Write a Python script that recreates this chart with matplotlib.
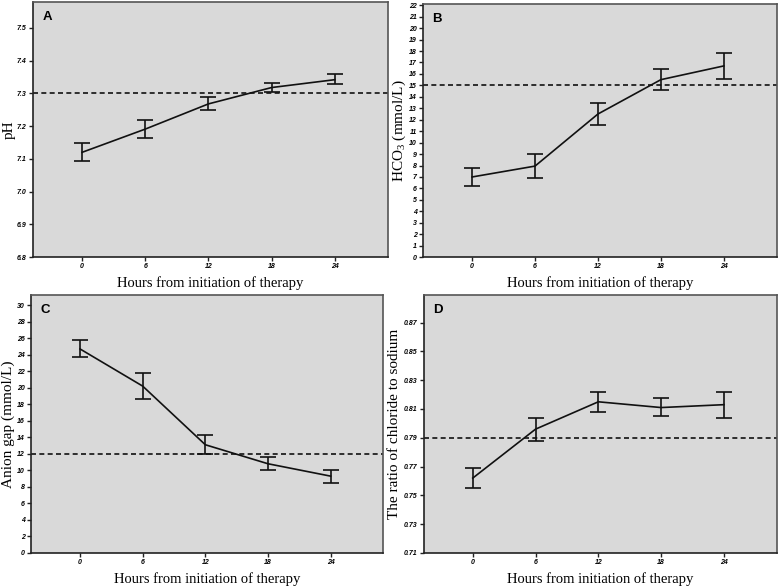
import numpy as np
import matplotlib
matplotlib.use('Agg')
import matplotlib.pyplot as plt

plt.rcParams['mathtext.fontset'] = 'custom'
plt.rcParams['mathtext.rm'] = 'Liberation Serif'

hours = ['0', '6', '12', '18', '24']

# panel A - pH
ph_mean = [7.120, 7.191, 7.268, 7.318, 7.342]
ph_low = [7.093, 7.165, 7.248, 7.305, 7.328]
ph_high = [7.148, 7.218, 7.288, 7.333, 7.358]

# panel B - HCO3
hco3_mean = [7.0, 7.95, 12.5, 15.5, 16.7]
hco3_low = [6.2, 6.9, 11.5, 14.6, 15.6]
hco3_high = [7.8, 9.0, 13.45, 16.4, 17.85]

# panel C - anion gap
ag_mean = [24.7, 20.2, 13.1, 10.8, 9.3]
ag_low = [23.7, 18.7, 12.0, 10.0, 8.5]
ag_high = [25.8, 21.8, 14.3, 11.6, 10.1]

# panel D - Cl/Na ratio
ratio_mean = [0.762, 0.796, 0.815, 0.811, 0.813]
ratio_low = [0.755, 0.788, 0.808, 0.805, 0.804]
ratio_high = [0.769, 0.804, 0.822, 0.8175, 0.822]

W, H = 779, 587

panels = [
    dict(letter='A', mean=ph_mean, low=ph_low, high=ph_high, ref=7.3,
         ylim=(6.8, 7.58), yticks=np.arange(6.8, 7.51, 0.1), fmt='{:.1f}',
         ylabel='pH', rect=[0.042, 0.562, 0.456, 0.435], lab_px=23),
    dict(letter='B', mean=hco3_mean, low=hco3_low, high=hco3_high, ref=15,
         ylim=(0, 22.1), yticks=np.arange(0, 23, 1), fmt='{:.0f}',
         ylabel=r'HCO$_3$ (mmol/L)', rect=[0.543, 0.562, 0.454, 0.431], lab_px=24),
    dict(letter='C', mean=ag_mean, low=ag_low, high=ag_high, ref=12,
         ylim=(0, 31.2), yticks=np.arange(0, 31, 2), fmt='{:.0f}',
         ylabel='Anion gap (mmol/L)', rect=[0.040, 0.058, 0.452, 0.439], lab_px=23),
    dict(letter='D', mean=ratio_mean, low=ratio_low, high=ratio_high, ref=0.79,
         ylim=(0.71, 0.889), yticks=np.arange(0.71, 0.871, 0.02), fmt='{:.2f}',
         ylabel='The ratio of chloride to sodium', rect=[0.544, 0.058, 0.453, 0.439], lab_px=29),
]

fig = plt.figure(figsize=(W / 100, H / 100), dpi=100)
x = np.arange(len(hours))

for p in panels:
    ax = fig.add_axes(p['rect'])
    ax.set_facecolor('#d9d9d9')
    mean = np.array(p['mean'])
    yerr = [mean - np.array(p['low']), np.array(p['high']) - mean]
    ax.errorbar(x, mean, yerr=yerr, color='#111111', lw=1.2, capsize=6,
                capthick=1.2, elinewidth=1.2)
    ax.axhline(p['ref'], color='#111111', lw=1.2, ls=(0, (3, 2)))
    ax.set_xlim(-0.78, 4.84)
    ax.set_ylim(*p['ylim'])
    ax.set_xticks(x)
    ax.set_xticklabels(hours)
    ax.set_yticks(p['yticks'])
    ax.set_yticklabels([p['fmt'].format(v) for v in p['yticks']])
    for lab in ax.get_xticklabels() + ax.get_yticklabels():
        lab.set_fontfamily('Liberation Sans')
        lab.set_fontweight('bold')
        lab.set_fontstyle('italic')
        lab.set_fontsize(5)
    ax.tick_params(axis='both', direction='out', length=3, width=1,
                   color='#222222', pad=1.5, top=False, right=False)
    for side in ['left', 'bottom']:
        ax.spines[side].set_color('#222222')
        ax.spines[side].set_linewidth(1.2)
    for side in ['top', 'right']:
        ax.spines[side].set_color('#555555')
        ax.spines[side].set_linewidth(1.2)
    ax.set_xlabel('Hours from initiation of therapy', family='Liberation Serif',
                  fontsize=10.5, labelpad=4)
    ax.set_ylabel(p['ylabel'], family='Liberation Serif', fontsize=11, va='center')
    ax.yaxis.set_label_coords(-p['lab_px'] / (p['rect'][2] * W), 0.5)
    ax.text(0.027, 0.965, p['letter'], transform=ax.transAxes, ha='left', va='top',
            fontsize=9.5, fontweight='bold', family='Liberation Sans')

fig.savefig('out.png', dpi=100)
